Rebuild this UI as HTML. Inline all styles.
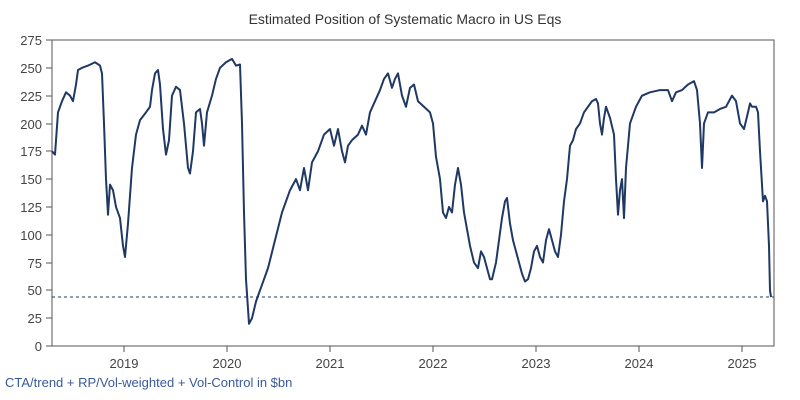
<!DOCTYPE html>
<html><head><style>body{margin:0;background:#fff}svg{display:block}</style></head><body>
<svg width="800" height="400" xmlns="http://www.w3.org/2000/svg" font-family="Liberation Sans, sans-serif">
<rect width="800" height="400" fill="#fff"/>
<text x="405" y="24" text-anchor="middle" font-size="14" fill="#333">Estimated Position of Systematic Macro in US Eqs</text>
<rect x="52" y="40" width="722" height="306" fill="none" stroke="#555" stroke-width="1"/>
<g font-size="13" fill="#444" text-anchor="end">
<text x="42" y="351">0</text><text x="42" y="323">25</text><text x="42" y="295">50</text><text x="42" y="268">75</text><text x="42" y="240">100</text><text x="42" y="212">125</text><text x="42" y="184">150</text><text x="42" y="156">175</text><text x="42" y="129">200</text><text x="42" y="101">225</text><text x="42" y="73">250</text><text x="42" y="45">275</text>
</g>
<g stroke="#555"><path d="M46 346H52M46 318H52M46 290H52M46 263H52M46 235H52M46 207H52M46 179H52M46 151H52M46 124H52M46 96H52M46 68H52M46 40H52"/>
<path d="M124 346V352M227 346V352M330 346V352M433 346V352M536 346V352M639 346V352M742 346V352"/></g>
<g font-size="13" fill="#444" text-anchor="middle">
<text x="124" y="368">2019</text><text x="227" y="368">2020</text><text x="330" y="368">2021</text><text x="433" y="368">2022</text><text x="536" y="368">2023</text><text x="639" y="368">2024</text><text x="742" y="368">2025</text>
</g>
<line x1="52" y1="297" x2="774" y2="297" stroke="#1f3864" stroke-dasharray="3,3" stroke-width="1"/>
<g transform="translate(0,346) scale(1,-1.1127)">
<polyline fill="none" stroke="#1f3864" stroke-width="2" vector-effect="non-scaling-stroke" stroke-linejoin="round" points="52,175 55,172 58,210 62,220 66,228 70,225 73,220 76,235 78,248 82,250 88,252 95,255 100,252 102,245 104,200 106,150 108,118 110,145 113,140 116,125 120,115 123,90 125,80 128,110 132,160 136,190 140,203 146,210 150,215 152,230 155,245 158,248 160,235 163,195 166,172 169,185 172,225 176,233 180,230 184,200 188,160 190,155 193,175 196,210 200,213 202,200 204,180 207,210 212,225 216,240 220,250 226,255 232,258 236,252 240,253 242,200 244,120 246,60 249,20 252,25 256,40 262,55 268,70 275,95 282,120 290,140 296,150 300,140 304,160 308,140 312,165 318,175 324,190 330,195 334,180 338,195 342,175 345,165 348,180 352,185 358,190 362,198 366,190 370,210 375,220 380,230 384,240 388,245 392,232 395,240 398,245 402,225 406,215 410,232 414,235 418,220 424,215 430,210 433,200 436,170 440,150 443,120 446,115 449,125 452,120 455,145 458,160 461,145 464,120 467,105 470,90 474,75 478,70 481,85 484,80 487,70 490,60 492,60 496,75 499,95 502,115 505,130 507,133 510,110 513,95 516,85 519,75 522,65 525,58 528,60 531,70 534,85 537,90 540,80 543,75 546,95 549,105 552,95 555,85 558,80 561,100 564,130 567,150 570,180 573,185 576,195 580,200 584,210 588,215 592,220 596,222 598,218 600,200 602,190 604,205 606,215 610,205 614,190 616,150 618,118 620,140 622,150 624,115 626,160 630,200 636,215 642,225 650,228 660,230 668,230 672,220 676,228 682,230 688,235 694,238 697,230 700,200 702,160 704,200 708,210 714,210 720,213 726,215 732,225 736,220 740,200 744,195 748,210 750,218 752,215 756,215 758,210 760,175 763,130 765,135 767,130 769,90 770,50 771,44"/>
</g>
<text x="5" y="387" font-size="13" fill="#3a5a9a">CTA/trend + RP/Vol-weighted + Vol-Control in $bn</text>
</svg>
</body></html>
